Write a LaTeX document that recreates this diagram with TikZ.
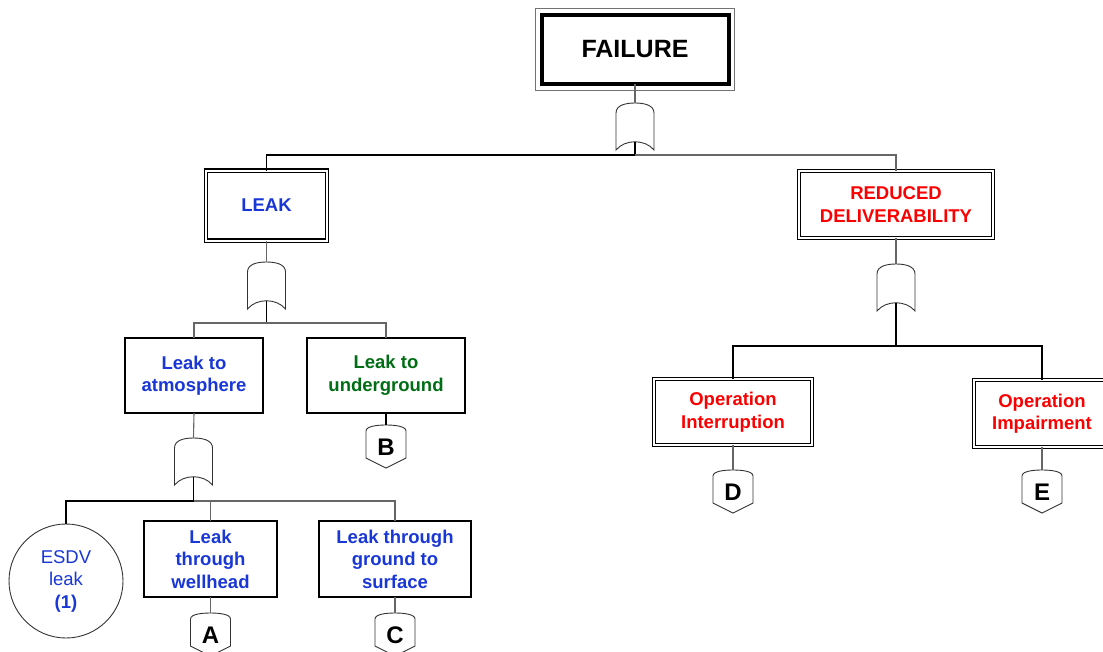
\documentclass[tikz,border=0pt]{standalone}
\usepackage{fontspec}
\setmainfont{Liberation Sans}
\definecolor{tblue}{RGB}{25,55,215}
\definecolor{tgreen}{RGB}{0,110,20}
\definecolor{tred}{RGB}{250,0,0}
\begin{document}
\begin{tikzpicture}[x=1pt,y=-1pt,
  txt/.style={font=\fontsize{18.5}{22.5}\selectfont\bfseries, align=center, inner sep=0pt, outer sep=0pt},
  failbox/.style={txt, draw=black, line width=4pt, font=\fontsize{25}{30}\selectfont\bfseries},
  dbox/.style={txt, draw=black, double=white, double distance=2pt, line width=1.15pt},
  sbox/.style={txt, draw=black, line width=1.3pt},
  evcircle/.style={circle, draw=black!80, line width=0.9pt, align=center, inner sep=0pt, outer sep=0pt,
     font=\fontsize{18.5}{22.5}\selectfont, text=tblue},
  conn/.style={draw=black, line width=1.3pt},
  gconn/.style={draw=black!60, line width=1.1pt},
  gateline/.style={draw=black!80, line width=0.9pt, fill=white},
  xfertext/.style={font=\fontsize{24}{28}\selectfont\bfseries, inner sep=0pt},
  orgate/.pic={
    \path[gateline] (-19,10) .. controls (-19,2) and (-9,0) .. (0,0)
       .. controls (9,0) and (19,2) .. (19,10) -- (19,47)
       .. controls (10,36) and (-10,36) .. (-19,47) -- cycle;
    \coordinate (-in) at (0,0);
    \coordinate (-out) at (0,38.8);
  },
  xfer/.pic={
    \path[gateline] (-20,6) .. controls (-20,1) and (-8,0) .. (0,0)
       .. controls (8,0) and (20,1) .. (20,6) -- (20,33) -- (0,43) -- (-20,33) -- cycle;
    \coordinate (-in) at (0,0);
    \node[xfertext] (-t) at (0,22) {#1};
  }]
\clip (0,0) rectangle (1103,651);
\fill[white] (0,0) rectangle (1103,651);

% ---- nodes ----
\node[failbox, minimum width=187pt, minimum height=69pt] (fail) at (635,49.5) {FAILURE};
\draw[black!55, line width=0.9pt] ([shift={(-6pt,6.5pt)}]fail.north west) rectangle ([shift={(6pt,-6.5pt)}]fail.south east);

\node[dbox, text=tblue, minimum width=121pt, minimum height=70pt] (leak) at (266.5,205.5) {LEAK};
\node[dbox, text=tred, minimum width=194pt, minimum height=67pt] (red) at (896,204.5) {REDUCED\\DELIVERABILITY};

\node[sbox, text=tblue, minimum width=138pt, minimum height=75pt] (atm) at (194,375.5) {Leak to\\atmosphere};
\node[sbox, text=tgreen, minimum width=158pt, minimum height=75pt] (und) at (386,375.5) {Leak to\\underground};

\node[evcircle, minimum size=114pt] (esdv) at (66,581) {ESDV\\leak\\\textbf{(1)}};
\node[sbox, text=tblue, minimum width=133pt, minimum height=76pt] (well) at (210.5,559) {Leak\\through\\wellhead};
\node[sbox, text=tblue, minimum width=152pt, minimum height=76pt] (surf) at (395,559) {Leak through\\ground to\\surface};

\node[dbox, text=tred, minimum width=158pt, minimum height=66pt] (opi) at (733,412) {Operation\\Interruption};
\node[dbox, text=tred, minimum width=136pt, minimum height=67pt] (opm) at (1042,413.5) {Operation\\Impairment};

% ---- gates ----
\pic (g1) at (635,103) {orgate};
\pic (g2) at (266.5,262) {orgate};
\pic (g3) at (193.5,438) {orgate};
\pic (g4) at (896,264) {orgate};

% ---- transfer symbols ----
\pic (xB) at (386,425) {xfer=B};
\pic (xA) at (210.5,613) {xfer=A};
\pic (xC) at (395,613) {xfer=C};
\pic (xD) at (733,470) {xfer=D};
\pic (xE) at (1042,470) {xfer=E};

% ---- bus points ----
\coordinate (b1) at (635,155);
\coordinate (b2) at (266.5,323);
\coordinate (b3) at (193.5,501);
\coordinate (b4) at (896,346);

% ---- connectors ----
\draw[gconn] (fail.south) -- (g1-in);
\draw[conn] (g1-out) -- (b1);
\draw[conn] (b1) -| (leak.north);
\draw[gconn] (b1) -| (red.north);

\draw[gconn] (leak.south) -- (g2-in);
\draw[conn] (g2-out) -- (b2);
\draw[gconn] (b2) -| (atm.north);
\draw[gconn] (b2) -| (und.north);
\draw[conn] (und.south) -- (xB-in);

\draw[gconn] (atm.south) -- (g3-in);
\draw[conn] (g3-out) -- (b3);
\draw[conn] (b3) -| (esdv.north);
\draw[gconn] (b3) -| (well.north);
\draw[gconn] (b3) -| (surf.north);
\draw[gconn] (well.south) -- (xA-in);
\draw[gconn] (surf.south) -- (xC-in);

\draw[gconn] (red.south) -- (g4-in);
\draw[conn] (g4-out) -- (b4);
\draw[conn] (b4) -| (opi.north);
\draw[conn] (b4) -| (opm.north);
\draw[gconn] (opi.south) -- (xD-in);
\draw[gconn] (opm.south) -- (xE-in);
\end{tikzpicture}
\end{document}
